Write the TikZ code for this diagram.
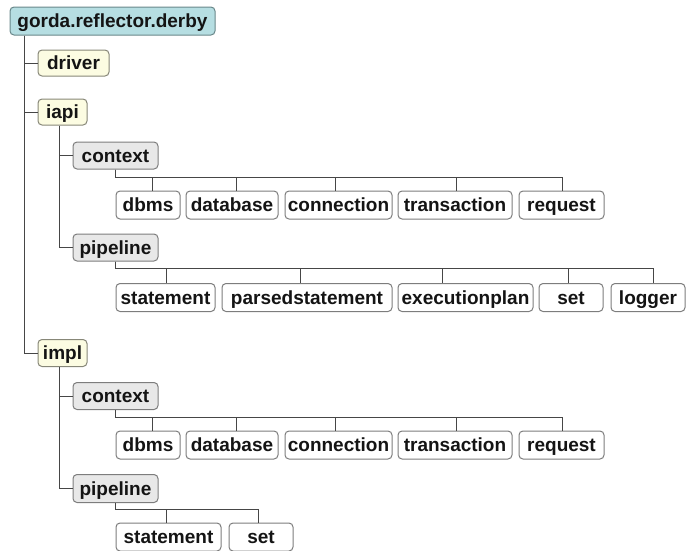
\documentclass[tikz,border=0pt]{standalone}
\usepackage{fontspec}
\setmainfont{Liberation Sans}
\definecolor{rootfill}{RGB}{182,222,226}
\definecolor{rootedge}{RGB}{105,135,138}
\definecolor{pkgfill}{RGB}{252,252,226}
\definecolor{pkgedge}{RGB}{135,135,120}
\definecolor{subfill}{RGB}{232,232,232}
\definecolor{boxedge}{RGB}{125,125,125}
\definecolor{wirecol}{RGB}{70,70,70}
\begin{document}
\begin{tikzpicture}[x=1pt,y=-1pt,
  box/.style={draw=boxedge,line width=1pt,rounded corners=4pt,
    inner sep=0pt,font=\fontsize{19}{21}\selectfont\bfseries,
    text=black!92,text height=15pt,text depth=2pt},
  rootbox/.style={box,fill=rootfill,draw=rootedge},
  pkgbox/.style={box,fill=pkgfill,draw=pkgedge},
  subbox/.style={box,fill=subfill},
  leaf/.style={box,fill=white},
  wire/.style={draw=wirecol,line width=0.9pt},
]
\useasboundingbox (0,0) rectangle (686,550);

% top-level package and its direct subpackages
\node[rootbox,minimum width=205,minimum height=28] (root) at (112.5,21) {gorda.reflector.derby};
\node[pkgbox,minimum width=71,minimum height=26] (driver) at (73.5,63) {driver};
\node[pkgbox,minimum width=49,minimum height=26] (iapi) at (62.5,112) {iapi};
\node[pkgbox,minimum width=49,minimum height=27] (impl) at (62.5,353) {impl};

% iapi subtree
\node[subbox,minimum width=85,minimum height=27] (ctxA) at (115.5,155.5) {context};
\node[subbox,minimum width=85,minimum height=27] (pipeA) at (115.5,247.5) {pipeline};

\node[leaf,minimum width=64,minimum height=28]  (dbmsA) at (148,205) {dbms};
\node[leaf,minimum width=92,minimum height=28]  (dbA)   at (232,205) {database};
\node[leaf,minimum width=107,minimum height=28] (connA) at (338.5,205) {connection};
\node[leaf,minimum width=114,minimum height=28] (txA)   at (455,205) {transaction};
\node[leaf,minimum width=85,minimum height=28]  (reqA)  at (561.5,205) {request};

\node[leaf,minimum width=99,minimum height=28]  (stA)   at (165.5,297.5) {statement};
\node[leaf,minimum width=170,minimum height=28] (pstA)  at (307,297.5) {parsedstatement};
\node[leaf,minimum width=135,minimum height=28] (epA)   at (465.5,297.5) {executionplan};
\node[leaf,minimum width=64,minimum height=28]  (setA)  at (571,297.5) {set};
\node[leaf,minimum width=74,minimum height=28]  (logA)  at (648,297.5) {logger};

% impl subtree
\node[subbox,minimum width=85,minimum height=27] (ctxB) at (115.5,396) {context};
\node[subbox,minimum width=85,minimum height=28] (pipeB) at (115.5,488.5) {pipeline};

\node[leaf,minimum width=64,minimum height=28]  (dbmsB) at (148,445) {dbms};
\node[leaf,minimum width=92,minimum height=28]  (dbB)   at (232,445) {database};
\node[leaf,minimum width=107,minimum height=28] (connB) at (338.5,445) {connection};
\node[leaf,minimum width=114,minimum height=28] (txB)   at (455,445) {transaction};
\node[leaf,minimum width=85,minimum height=28]  (reqB)  at (561.5,445) {request};

\node[leaf,minimum width=105,minimum height=28] (stB)   at (168.5,537) {statement};
\node[leaf,minimum width=64,minimum height=28]  (setB)  at (261,537) {set};

% vertical spines with horizontal branches
\foreach \c in {driver,iapi,impl}
  \draw[wire] ([xshift=15]root.south west) |- (\c.west);
\foreach \c in {ctxA,pipeA}
  \draw[wire] ([xshift=22]iapi.south west) |- (\c.west);
\foreach \c in {ctxB,pipeB}
  \draw[wire] ([xshift=22]impl.south west) |- (\c.west);

% horizontal buses down to the leaves
\foreach \c/\dx in {dbmsA/4,dbA/4,connA/-3,txA/1,reqA/1}
  \draw[wire] (ctxA.south) -- ++(0,8) -| ([xshift=\dx]\c.north);
\foreach \c/\dx in {stA/0.5,pstA/-7,epA/-23,setA/-3,logA/5}
  \draw[wire] (pipeA.south) -- ++(0,7) -| ([xshift=\dx]\c.north);
\foreach \c/\dx in {dbmsB/4,dbB/4,connB/-3,txB/1,reqB/1}
  \draw[wire] (ctxB.south) -- ++(0,7) -| ([xshift=\dx]\c.north);
\foreach \c/\dx in {stB/-2.5,setB/-3}
  \draw[wire] (pipeB.south) -- ++(0,6) -| ([xshift=\dx]\c.north);
\end{tikzpicture}
\end{document}
